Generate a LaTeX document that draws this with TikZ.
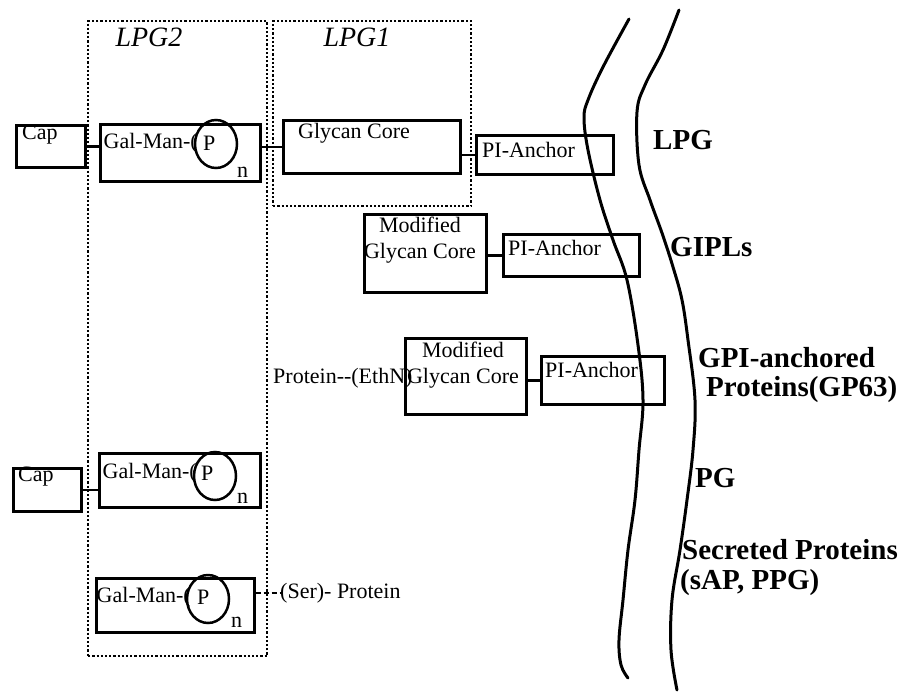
\documentclass[tikz,border=0pt]{standalone}
\usepackage{fontspec}
\setmainfont{Liberation Serif}
\usetikzlibrary{shapes.geometric}
\tikzset{
 bx/.style={draw, line width=2.5pt, inner sep=0pt, anchor=north west},
 dotbox/.style={draw, line width=2.4pt, dash pattern=on 2.2pt off 2pt, inner sep=0pt, anchor=north west},
 sm/.style={font=\fontsize{22}{26}\selectfont, inner sep=0pt, anchor=west},
 sme/.style={font=\fontsize{22}{26}\selectfont, inner sep=0pt, anchor=east},
 smc/.style={font=\fontsize{22}{26}\selectfont, inner sep=0pt, align=center},
 big/.style={font=\fontsize{29}{32}\selectfont\bfseries, inner sep=0pt, anchor=west},
 itl/.style={font=\fontsize{28}{30}\selectfont\itshape, inner sep=0pt},
 pc/.style={draw, ellipse, line width=2.5pt, minimum width=42pt, minimum height=48pt, inner sep=0pt},
 conn/.style={line width=2.5pt},
 dconn/.style={line width=2pt, dash pattern=on 5pt off 3pt},
 mem/.style={line width=3pt, line cap=round},
}
\begin{document}
\begin{tikzpicture}[x=1pt,y=-1pt]
\useasboundingbox (0,0) rectangle (902,691);
% dotted group boxes
\node[dotbox, minimum width=179pt, minimum height=635pt] (lpg2box) at (87,20) {};
\node[dotbox, minimum width=198pt, minimum height=185pt] (lpg1box) at (272,20) {};
\node[itl] (lpg2lab) at (149,37) {LPG2};
\node[itl] (lpg1lab) at (357,37) {LPG1};
% boxes
\node[bx, minimum width=69pt, minimum height=42pt] (cap1) at (15,124) {};
\node[bx, minimum width=160pt, minimum height=57pt] (gal1) at (99,123) {};
\node[bx, minimum width=177pt, minimum height=53pt] (glycan) at (282,119) {};
\node[bx, minimum width=137pt, minimum height=39pt] (pi1) at (475,134) {};
\node[bx, minimum width=122pt, minimum height=78pt] (mgc2) at (363,213) {};
\node[bx, minimum width=136pt, minimum height=42pt] (pi2) at (502,233) {};
\node[bx, minimum width=121pt, minimum height=76pt] (mgc3) at (404,337) {};
\node[bx, minimum width=123pt, minimum height=48pt] (pi3) at (540,355) {};
\node[bx, minimum width=68pt, minimum height=43pt] (cap2) at (12,467) {};
\node[bx, minimum width=161pt, minimum height=54pt] (gal2) at (98,452) {};
\node[bx, minimum width=158pt, minimum height=54pt] (gal3) at (95,577) {};
% phosphate circles
\node[pc] (p1) at (216,144) {};
\node[pc] (p2) at (215,476) {};
\node[pc] (p3) at (208,599) {};
% texts
\node[sm] (capt1) at (22,135) {Cap};
\node[sm] (capt2) at (18,477) {Cap};
\node[sme] (galt1) at (198,143) {Gal-Man-(};
\node[sm] (pt1) at (203,143) {P};
\node[sme] (galt2) at (197,473) {Gal-Man-(};
\node[sm] (pt2) at (201,473) {P};
\node[sme] (galt3) at (191,597) {Gal-Man-(};
\node[sm] (pt3) at (197,597) {P};
\node[sm] (n1) at (237,172) {n};
\node[sm] (n2) at (237,498) {n};
\node[sm] (n3) at (231,622) {n};
\node[sm] (glyt) at (298,133) {Glycan Core};
\node[sm] (pit1) at (482,150) {PI-Anchor};
\node[sm] (pit2) at (508,248) {PI-Anchor};
\node[sm] (pit3) at (545,370) {PI-Anchor};
\node[smc] (mgct2) at (420,240) {Modified\\Glycan Core};
\node[smc] (mgct3) at (463,365) {Modified\\Glycan Core};
\node[sm] (prot) at (273,378) {Protein-{}-(EthN)};
\node[sm] (ser) at (280,593) {(Ser)- Protein};
% connectors
\draw[conn] (cap1.east) -- (cap1.east -| gal1.west);
\draw[conn] (gal1.east |- glycan.west) -- (glycan.west);
\draw[conn] (glycan.east |- pi1.west) -- (pi1.west);
\draw[conn] (mgc2.east |- pi2.west) -- (pi2.west);
\draw[conn] (mgc3.east |- pi3.west) -- (pi3.west);
\draw[conn] (cap2.east) -- (cap2.east -| gal2.west);
\draw[dconn] (gal3.east |- ser.west) -- (ser.west);
% membrane
\draw[mem] plot[smooth, tension=0.6] coordinates {(629,19) (603,67) (588,100) (584,118) (588,150) (600,200) (613,240) (627,280) (638,345) (643,400) (639,450) (635,500) (628,550) (623,600) (619,640) (621,665) (628,678)};
\draw[mem] plot[smooth, tension=0.6] coordinates {(679,10) (663,50) (645,85) (637,112) (639,165) (650,200) (662,233) (673,267) (682,300) (688,340) (695,400) (693,450) (687,500) (680,550) (672,600) (671,650) (677,690)};
% right labels
\node[big] (lLPG) at (653,140) {LPG};
\node[big] (lGIPL) at (670,247) {GIPLs};
\node[big] (lGPI) at (698,358) {GPI-anchored};
\node[big] (lGP63) at (706,390) {Proteins(GP63)};
\node[big] (lPG) at (695,478) {PG};
\node[big] (lSec) at (682,550) {Secreted Proteins};
\node[big] (lsAP) at (680,583) {(sAP, PPG)};
\end{tikzpicture}
\end{document}
